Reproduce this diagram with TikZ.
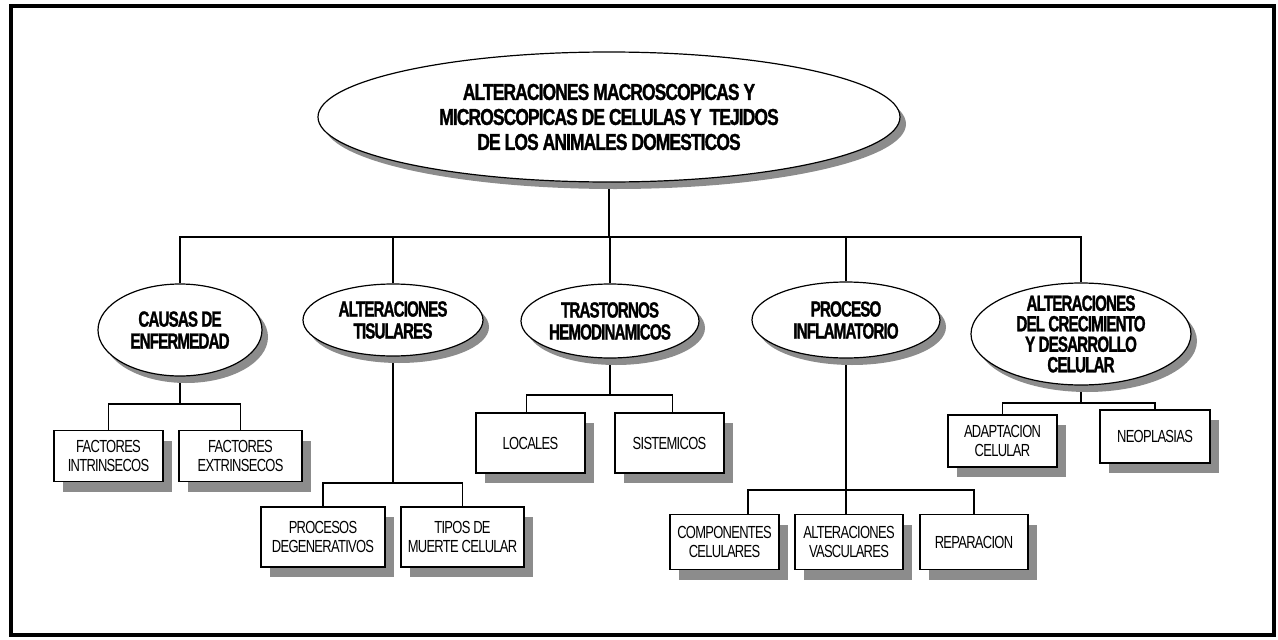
\documentclass[tikz,border=0pt]{standalone}
\usepackage{fontspec}
\newfontfamily\titlefont{Liberation Sans}[FakeStretch=0.76, LetterSpace=-4, BoldFeatures={FakeBold=1.2}]
\newfontfamily\ellfont{Liberation Sans}[FakeStretch=0.69, LetterSpace=-4, BoldFeatures={FakeBold=1.2}]
\newfontfamily\boxfont{Liberation Sans}[FakeStretch=0.74, LetterSpace=-4]
\usetikzlibrary{shapes.geometric,shadows,calc}
\definecolor{shadowgray}{HTML}{8C8C8C}
\pgfdeclarelayer{bg}
\pgfsetlayers{bg,main}
\begin{document}
\begin{tikzpicture}[x=1pt,y=-1pt,
  ell/.style={ellipse, draw, line width=1.2pt, fill=white, inner sep=0pt,
    drop shadow={shadow xshift=6pt, shadow yshift=-7pt, fill=shadowgray, opacity=1}},
  box/.style={rectangle, draw, line width=1.3pt, fill=white, inner sep=0pt, align=center,
    font=\boxfont\fontsize{17.5}{18.5}\selectfont,
    drop shadow={shadow xshift=9pt, shadow yshift=-10pt, fill=shadowgray, opacity=1}},
  lab/.style={align=center, inner sep=0pt, font=\ellfont\bfseries\fontsize{22}{22}\selectfont},
  conn/.style={line width=1.2pt}]
\useasboundingbox (0,0) rectangle (1278,640);
\draw[line width=4pt] (11,6) rectangle (1274,635);

% main
\node[ell, minimum width=582pt, minimum height=130pt] (main) at (609,117) {};
\node[lab, font=\titlefont\bfseries\fontsize{23}{25}\selectfont] (mainlab) at (main.center)
  {ALTERACIONES MACROSCOPICAS Y\\MICROSCOPICAS DE CELULAS Y\ \ TEJIDOS\\DE LOS ANIMALES DOMESTICOS};

% level 2
\node[ell, minimum width=164pt, minimum height=92pt] (e1) at (180,330) {};
\node[lab] (l1) at (e1.center) {CAUSAS DE\\ENFERMEDAD};
\node[ell, minimum width=180pt, minimum height=72pt] (e2) at (393,320) {};
\node[lab] (l2) at (e2.center) {ALTERACIONES\\TISULARES};
\node[ell, minimum width=178pt, minimum height=74pt] (e3) at (610,321) {};
\node[lab] (l3) at (e3.center) {TRASTORNOS\\HEMODINAMICOS};
\node[ell, minimum width=188pt, minimum height=76pt] (e4) at (846,320) {};
\node[lab] (l4) at (e4.center) {PROCESO\\INFLAMATORIO};
\node[ell, minimum width=220pt, minimum height=102pt] (e5) at (1081,334) {};
\node[lab, font=\ellfont\bfseries\fontsize{22}{20.5}\selectfont] (l5) at (e5.center)
  {ALTERACIONES\\DEL CRECIMIENTO\\Y DESARROLLO\\CELULAR};

% level 3
\node[box, minimum width=109pt, minimum height=51pt] (b11) at (108.5,456) {FACTORES\\INTRINSECOS};
\node[box, minimum width=123pt, minimum height=51pt] (b12) at (240.5,456) {FACTORES\\EXTRINSECOS};
\node[box, minimum width=124pt, minimum height=60pt] (b21) at (323,537) {PROCESOS\\DEGENERATIVOS};
\node[box, minimum width=123pt, minimum height=60pt] (b22) at (462.5,537) {TIPOS DE\\MUERTE CELULAR};
\node[box, minimum width=109pt, minimum height=60pt] (b31) at (530.5,443) {LOCALES};
\node[box, minimum width=109pt, minimum height=60pt] (b32) at (669.5,443) {SISTEMICOS};
\node[box, minimum width=109pt, minimum height=55pt] (b41) at (724.5,542) {COMPONENTES\\CELULARES};
\node[box, minimum width=108pt, minimum height=55pt] (b42) at (849,542) {ALTERACIONES\\VASCULARES};
\node[box, minimum width=108pt, minimum height=55pt] (b43) at (974,542) {REPARACION};
\node[box, minimum width=109pt, minimum height=52pt] (b51) at (1002.5,441) {ADAPTACION\\CELULAR};
\node[box, minimum width=110pt, minimum height=53pt] (b52) at (1155,436.5) {NEOPLASIAS};

\coordinate (bus0) at (609,237);
\coordinate (bus1) at (180,404);
\coordinate (bus2) at (393,483);
\coordinate (bus3) at (610,395);
\coordinate (bus4) at (846,490);
\coordinate (bus5) at (1081,403);

\begin{pgfonlayer}{bg}
  \draw[conn] (main.south) -- (bus0);
  \draw[conn] (e1.north) -- (e1.north |- bus0) -- (e5.north |- bus0) -- (e5.north);
  \draw[conn] (e2.north) -- (e2.north |- bus0);
  \draw[conn] (e3.north) -- (e3.north |- bus0);
  \draw[conn] (e4.north) -- (e4.north |- bus0);
  % e1
  \draw[conn] (e1.south) -- (bus1);
  \draw[conn] (b11.north) -- (b11.north |- bus1) -- (b12.north |- bus1) -- (b12.north);
  % e2
  \draw[conn] (e2.south) -- (bus2);
  \draw[conn] (b21.north) -- (b21.north |- bus2) -- (b22.north |- bus2) -- (b22.north);
  % e3
  \draw[conn] (e3.south) -- (bus3);
  \draw[conn] ($(b31.north)+(-4,0)$) -- ($(b31.north |- bus3)+(-4,0)$) -- ($(b32.north |- bus3)+(3,0)$) -- ($(b32.north)+(3,0)$);
  % e4
  \draw[conn] (e4.south) -- (e4.south |- b42.north);
  \draw[conn] ($(b41.north)+(23.5,0)$) -- ($(b41.north |- bus4)+(23.5,0)$) -- (b43.north |- bus4) -- (b43.north);
  % e5
  \draw[conn] (e5.south) -- (bus5);
  \draw[conn] (b51.north) -- (b51.north |- bus5) -- (b52.north |- bus5) -- (b52.north);
\end{pgfonlayer}
\end{tikzpicture}
\end{document}
